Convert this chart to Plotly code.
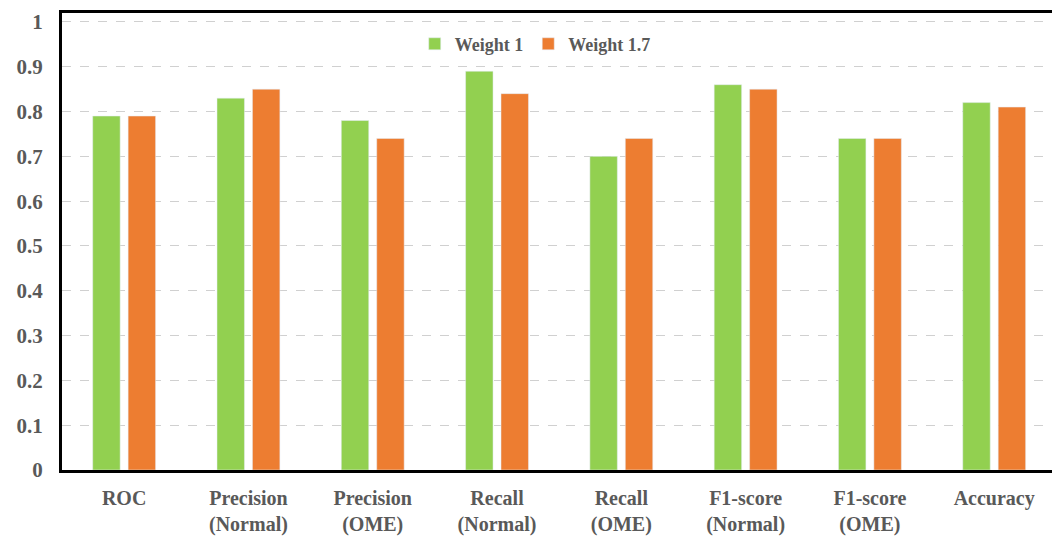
import plotly.graph_objects as go

categories = ["ROC", "Precision<br>(Normal)", "Precision<br>(OME)", "Recall<br>(Normal)",
              "Recall<br>(OME)", "F1-score<br>(Normal)", "F1-score<br>(OME)", "Accuracy"]
weight_1 = [0.79, 0.83, 0.78, 0.89, 0.70, 0.86, 0.74, 0.82]
weight_1_7 = [0.79, 0.85, 0.74, 0.84, 0.74, 0.85, 0.74, 0.81]
y_ticks = [0, 0.1, 0.2, 0.3, 0.4, 0.5, 0.6, 0.7, 0.8, 0.9, 1]
y_tick_text = ["0", "0.1", "0.2", "0.3", "0.4", "0.5", "0.6", "0.7", "0.8", "0.9", "1"]

font_family = "Liberation Serif"
text_color = "#595959"

fig = go.Figure()
fig.add_trace(go.Bar(name="<b>Weight 1</b>", x=list(range(len(categories))), y=weight_1,
                     marker=dict(color="#92D050")))
fig.add_trace(go.Bar(name="<b>Weight 1.7</b>", x=list(range(len(categories))), y=weight_1_7,
                     marker=dict(color="#ED7D31")))

fig.update_layout(
    width=1052, height=536,
    margin=dict(l=62, r=0, t=13, b=63),
    paper_bgcolor="white", plot_bgcolor="white",
    barmode="group", bargap=0.43, bargroupgap=0.225,
    font=dict(family=font_family, color=text_color),
    legend=dict(orientation="h", x=0.478, xanchor="center", y=0.932, yanchor="middle",
                font=dict(size=18, family=font_family, color=text_color),
                itemwidth=30, bgcolor="rgba(0,0,0,0)"),
    xaxis=dict(
        tickmode="array", tickvals=list(range(len(categories))),
        ticktext=[f"<b>{c}</b>" for c in categories],
        range=[-0.5, 7.465], showgrid=False,
        showline=True, linecolor="black", linewidth=3, mirror=True,
        tickfont=dict(size=20, family=font_family, color=text_color),
        ticks="outside", ticklen=8, tickcolor="white",
    ),
    yaxis=dict(
        range=[0, 1.02], tickmode="array", tickvals=y_ticks,
        ticktext=[f"<b>{t}</b>" for t in y_tick_text],
        showgrid=True, gridcolor="#D0D0D0", griddash="dash", gridwidth=1,
        showline=True, linecolor="black", linewidth=3,
        zeroline=False,
        tickfont=dict(size=21, family=font_family, color=text_color),
        ticks="outside", ticklen=12, tickcolor="white",
    ),
)

fig.write_html("out.html")
